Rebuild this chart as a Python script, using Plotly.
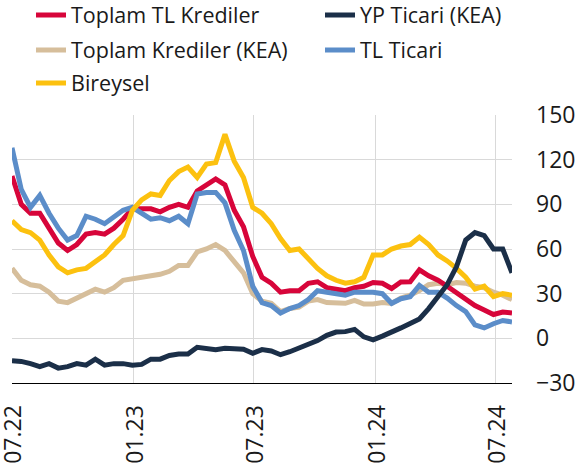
import pandas as pd
import plotly.graph_objects as go

dates = pd.date_range("2022-07-01", periods=55, freq="14D")

toplam_tl = [109, 90, 84, 84, 74, 64, 59, 63, 70, 71, 70, 74, 80, 87, 87, 87, 85, 88, 90, 88,
             99, 103, 107, 103, 86, 75, 55, 41, 37, 31, 32, 32, 37, 38, 34, 33, 32, 34, 35, 37.5,
             37, 33.5, 37.8, 38, 46, 42, 39, 35, 31, 27, 22, 19, 16, 17.7, 17]
yp_ticari = [-15, -15.5, -17, -19, -17, -20, -19, -17, -18, -14, -18, -17, -17, -18, -17.5, -14, -14, -11.5, -10.6, -10.6,
             -6, -6.7, -7.6, -6.7, -7, -7.3, -10, -7.6, -8.5, -11, -9, -6.5, -3.5, -1.5, 2, 4.2, 4.5, 6, 1, -1,
             1.5, 4, 7, 10, 13, 20, 28, 36, 48, 66, 71, 69, 60, 60, 44]
toplam_kea = [47, 39, 36, 35, 31, 25, 24, 27, 30, 33, 31, 34, 39, 40, 41, 42, 43, 45, 49, 49,
              58, 60, 63, 59, 51, 44, 30, 25, 23.5, 18, 20, 21, 25, 26, 24, 24, 23.5, 25.5, 23, 23,
              24, 23.5, 27, 29, 32, 36, 37, 36, 37.5, 37, 35, 34, 31, 29, 26]
tl_ticari = [128, 100, 88, 96, 84, 74, 66, 69, 82, 80, 77, 81, 86, 88, 84, 80, 81, 79, 82, 77,
             97, 98, 98, 91, 72.5, 59, 35, 24, 22, 17, 20, 22, 26, 32, 31, 30, 29, 31, 31, 31,
             30, 23.5, 26.6, 28, 35.6, 31, 31, 27, 22, 18, 9, 7, 9.8, 12, 11]
bireysel = [79, 73, 71, 66, 56, 48, 44, 46, 47, 51, 56, 63, 69, 86, 93, 97, 96, 106, 112, 115,
            108, 117, 118, 137, 119, 108, 88, 84, 77, 67, 59, 60, 53, 47, 42, 39, 37, 38, 41, 56,
            56, 60, 62, 63, 68, 63, 56, 52, 47, 41, 33, 35, 28, 30, 29]

x_tickvals = ["2022-07-01", "2023-01-01", "2023-07-01", "2024-01-01", "2024-07-01"]
x_ticktext = ["07.22", "01.23", "07.23", "01.24", "07.24"]
y_tickvals = [-30, 0, 30, 60, 90, 120, 150]

# name, values, color, legend id ; listed in drawing order
series = [
    ("Toplam Krediler (KEA)", toplam_kea, "#D6BE9B", "legend3"),
    ("Toplam TL Krediler", toplam_tl, "#D7053A", "legend"),
    ("TL Ticari", tl_ticari, "#5B8DC9", "legend4"),
    ("Bireysel", bireysel, "#FCC10F", "legend5"),
    ("YP Ticari (KEA)", yp_ticari, "#1B2F48", "legend2"),
]

fig = go.Figure()
for name, vals, color, lg in series:
    fig.add_trace(go.Scatter(x=dates, y=vals, name=name, mode="lines",
                             line=dict(color=color, width=5), legend=lg))

font_family = "Open Sans, Noto Sans, sans-serif"
FW, FH = 577, 468
L, T, W, H = 12, 115, 500, 268


def leg(text_x, cy):
    # text_x, cy: pixel position where the legend text should start / row centre
    px = text_x - 41
    return dict(x=(px - L) / W, y=1 + (T - cy) / H, xanchor="left", yanchor="middle",
                orientation="h", font=dict(family=font_family, size=21.5, color="#1a1a1a"),
                bgcolor="rgba(0,0,0,0)", borderwidth=0)


fig.update_layout(
    width=FW, height=FH, showlegend=True,
    margin=dict(l=L, r=FW - L - W, t=T, b=FH - T - H, autoexpand=False),
    paper_bgcolor="white", plot_bgcolor="white",
    font=dict(family=font_family, color="#1a1a1a"),
    legend=leg(72, 15), legend2=leg(361, 15),
    legend3=leg(72, 50), legend4=leg(361, 50),
    legend5=leg(72, 83),
    xaxis=dict(type="date", range=["2022-07-01", "2024-07-26"],
               tickvals=x_tickvals, ticktext=x_ticktext, tickangle=-90,
               tickfont=dict(size=23, family=font_family, color="#1a1a1a"),
               ticklabeloverflow="allow", ticklabelshift=2,
               showgrid=True, gridcolor="#d9d9d9", gridwidth=1,
               showline=True, linecolor="#000000", linewidth=1,
               ticks="", ticklabelstandoff=12, zeroline=False),
    yaxis=dict(side="right", range=[-30, 150], tickvals=y_tickvals,
               tickfont=dict(size=23, family=font_family, color="#1a1a1a"),
               ticklabeloverflow="allow",
               showgrid=True, gridcolor="#d9d9d9", gridwidth=1,
               zeroline=False, showline=False, ticks="", ticklabelstandoff=23),
)

fig.write_html("out.html", config={"displayModeBar": False},
               post_script="document.body.style.margin='0';document.body.style.overflow='hidden';")
